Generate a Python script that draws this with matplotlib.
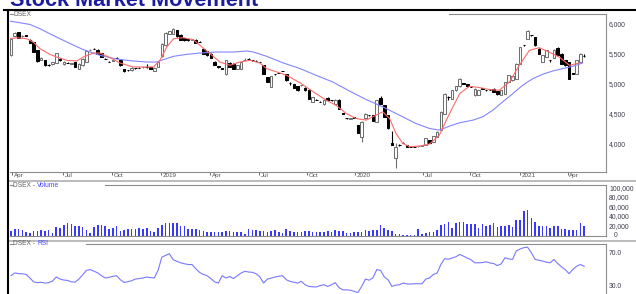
import numpy as np
import matplotlib.pyplot as plt
from matplotlib.lines import Line2D
from matplotlib.transforms import blended_transform_factory

plt.rcParams['font.family'] = ['Liberation Sans', 'DejaVu Sans']

# =====================================================
# DATA (weekly DSEX)
# =====================================================
opens = [5483, 5815, 5870, 5800, 5818, 5745, 5705, 5567, 5410, 5400,
         5330, 5335, 5355, 5430, 5335, 5362, 5345, 5372, 5261, 5317,
         5372, 5575, 5592, 5580, 5522, 5430, 5375, 5395, 5445, 5400,
         5250, 5240, 5233, 5272, 5280, 5285, 5292, 5285, 5225, 5290,
         5467, 5650, 5845, 5845, 5900, 5828, 5772, 5750, 5748, 5745,
         5710, 5595, 5550, 5511, 5370, 5300, 5265, 5167, 5361, 5344,
         5255, 5261, 5410, 5428, 5405, 5392, 5375, 5317, 5122, 4956,
         5170, 5190, 5222, 5167, 5025, 5000, 4967, 4983, 4944, 4911,
         4706, 4745, 4710, 4667, 4778, 4735, 4667, 4744, 4515, 4430,
         4425, 4445, 4317, 4122, 4428, 4485, 4483, 4372, 4767, 4650,
         4483, 4020, 3761, 3985, 4022, 3985, 3958, 3956, 3960, 3975,
         3983, 4067, 4039, 4122, 4233, 4511, 4790, 4761, 4900, 4967,
         5015, 5000, 4960, 4817, 4822, 4930, 4905, 4912, 4928, 4889,
         4822, 4844, 5039, 5067, 5094, 5344, 5652, 5761, 5818, 5789,
         5594, 5372, 5456, 5402, 5444, 5611, 5511, 5400, 5372, 5180,
         5178, 5372, 5470]
closes = [5761, 5850, 5778, 5812, 5810, 5690, 5540, 5383, 5445, 5317,
          5318, 5372, 5522, 5400, 5372, 5355, 5350, 5290, 5344, 5428,
          5556, 5580, 5588, 5511, 5456, 5425, 5370, 5410, 5440, 5317,
          5217, 5235, 5278, 5268, 5276, 5290, 5286, 5262, 5278, 5372,
          5678, 5855, 5883, 5928, 5800, 5745, 5733, 5735, 5752, 5690,
          5705, 5511, 5483, 5444, 5330, 5295, 5262, 5400, 5289, 5261,
          5322, 5372, 5412, 5425, 5400, 5389, 5372, 5178, 5039, 5133,
          5167, 5189, 5220, 5067, 5022, 4944, 4900, 4985, 4900, 4761,
          4789, 4744, 4706, 4744, 4733, 4733, 4744, 4594, 4511, 4428,
          4428, 4444, 4189, 4372, 4511, 4483, 4389, 4733, 4678, 4456,
          4261, 3990, 3956, 3983, 4020, 3958, 3956, 3955, 3962, 3980,
          4094, 4022, 4133, 4206, 4539, 4844, 4785, 4900, 4967, 5094,
          5011, 4967, 4956, 4928, 4900, 4928, 4900, 4910, 4872, 4833,
          4900, 5039, 5150, 5133, 5344, 5622, 5650, 5889, 5816, 5650,
          5511, 5483, 5567, 5400, 5578, 5483, 5344, 5317, 5094, 5178,
          5400, 5511, 5467]
highs = [5775, 5870, 5880, 5825, 5825, 5750, 5710, 5570, 5455, 5405,
         5340, 5380, 5530, 5440, 5395, 5370, 5360, 5380, 5350, 5435,
         5565, 5590, 5600, 5585, 5530, 5440, 5385, 5420, 5450, 5405,
         5255, 5245, 5285, 5280, 5285, 5295, 5345, 5290, 5285, 5380,
         5690, 5870, 5890, 5945, 5910, 5835, 5780, 5755, 5760, 5750,
         5715, 5600, 5555, 5515, 5395, 5305, 5270, 5410, 5365, 5350,
         5330, 5380, 5440, 5435, 5410, 5398, 5380, 5325, 5128, 5140,
         5175, 5195, 5228, 5172, 5030, 5005, 4972, 4990, 4950, 4915,
         4795, 4755, 4720, 4750, 4785, 4745, 4752, 4750, 4520, 4440,
         4435, 4455, 4325, 4380, 4520, 4492, 4490, 4745, 4800, 4655,
         4490, 4222, 4011, 3995, 4030, 3990, 3962, 3960, 3968, 3988,
         4100, 4072, 4140, 4212, 4545, 4850, 4800, 4905, 4975, 5105,
         5020, 5005, 4965, 4935, 4908, 4935, 4910, 4918, 4932, 4895,
         4905, 5045, 5155, 5140, 5350, 5630, 5658, 5911, 5825, 5795,
         5600, 5490, 5575, 5408, 5585, 5618, 5518, 5405, 5378, 5190,
         5410, 5520, 5500]
lows = [5470, 5800, 5770, 5795, 5800, 5685, 5535, 5375, 5400, 5310,
        5310, 5330, 5350, 5395, 5320, 5350, 5340, 5285, 5255, 5310,
        5365, 5570, 5585, 5505, 5450, 5420, 5365, 5390, 5435, 5310,
        5210, 5230, 5228, 5262, 5270, 5280, 5280, 5255, 5220, 5285,
        5460, 5645, 5840, 5840, 5795, 5740, 5728, 5730, 5740, 5685,
        5700, 5505, 5478, 5440, 5320, 5270, 5255, 5160, 5285, 5255,
        5250, 5255, 5405, 5420, 5395, 5385, 5365, 5170, 5033, 4950,
        5160, 5183, 5215, 5060, 4990, 4938, 4895, 4975, 4895, 4755,
        4700, 4735, 4700, 4660, 4728, 4725, 4660, 4590, 4505, 4420,
        4420, 4435, 4180, 4039, 4420, 4475, 4383, 4365, 4672, 4450,
        4255, 3985, 3594, 3975, 4015, 3952, 3950, 3950, 3955, 3970,
        3978, 4018, 4035, 4118, 4228, 4505, 4733, 4755, 4895, 4960,
        5005, 4962, 4950, 4810, 4815, 4922, 4880, 4905, 4868, 4828,
        4815, 4838, 5033, 5060, 5088, 5338, 5645, 5755, 5810, 5645,
        5505, 5365, 5450, 5370, 5438, 5478, 5338, 5310, 5088, 5170,
        5172, 5365, 5460]

# volume in thousands
volume_k = [10.6, 15, 15, 13, 9, 7, 11, 11, 13, 11,
            13, 7, 18, 16, 23, 27, 25, 21, 20, 18,
            13, 6, 18, 23, 23, 20, 14, 16, 20, 11,
            13, 14, 14, 14, 16, 14, 16, 11, 9, 16,
            23, 28, 28, 27, 27, 21, 21, 14, 14, 14,
            13, 11, 9, 9, 9, 9, 9, 10, 10, 9,
            9, 8, 4, 14, 13, 13, 10, 10, 9, 11,
            13, 9, 6, 14, 10, 9, 9, 9, 10, 10,
            8, 9, 8, 9, 10, 9, 13, 11, 10, 7,
            7, 8, 8, 9, 13, 11, 13, 13, 23, 16,
            13, 10, 4, 4, 2, 2, 2, 2, 14, 4,
            7, 8, 9, 13, 23, 25, 30, 16, 28, 30,
            30, 25, 25, 25, 16, 25, 21, 23, 27, 18,
            20, 21, 23, 18, 34, 34, 52, 55, 38, 30,
            20, 21, 20, 16, 21, 22, 14, 15, 13, 13,
            13, 27, 22]

rsi = [43.5, 46.9, 46, 45.8, 45, 40.7, 36, 35, 35.5, 34.5,
       35, 37, 42, 39.4, 38.2, 37.8, 36, 35.7, 39.4, 44.5,
       50, 50.9, 49, 47, 43.5, 40.7, 41.5, 42.7, 43.5, 38.6,
       35.3, 36.2, 37.4, 39.4, 40, 40.7, 41.9, 41.2, 40.7, 50,
       66, 68.2, 70.2, 63, 61, 59.2, 58, 57.1, 57.1, 52,
       47.6, 45, 43.5, 40, 36, 34.5, 43.5, 40.7, 42.5, 40,
       43.5, 46.7, 48.8, 48, 47.6, 45.9, 42, 34.5, 39.4, 40.5,
       41.9, 42.8, 43.5, 38.6, 36.6, 35.5, 34.5, 36.6, 32.5, 30.4,
       30, 29.8, 31.5, 32.5, 30.4, 32.5, 35, 29, 26.3, 26.3,
       25.8, 24.5, 23, 30.4, 39.4, 38, 41, 50.9, 50, 42,
       38.6, 30.4, 32, 32.5, 34.5, 33.5, 33.3, 33.7, 33.7, 33.7,
       39.4, 40.7, 45, 46.7, 57.1, 64.1, 63.5, 65, 66.5, 69.4,
       67.3, 65, 63, 59.2, 59.2, 59.5, 60.4, 59, 58.3, 55.8,
       57.9, 65.3, 64, 63.3, 73.5, 76, 77.6, 78.2, 71.4, 63.3,
       62.3, 61.3, 60, 59.2, 63.3, 58.3, 54.2, 50.9, 46, 50.9,
       55, 57.1, 55]

# moving averages (bar position, value)
ma_fast_x = [-0.3, 1.5, 4.2, 5.9, 7.7, 10.3, 12.1, 14.8, 17.4, 19.2,
             21.8, 23.6, 26.3, 28.9, 32.4, 35.1, 37.8, 39.5, 41.3, 43.1,
             45.7, 48.4, 50.1, 52.8, 55.4, 58.1, 60.7, 63.4, 66, 67.8,
             70.5, 73.1, 76.7, 80.2, 83.6, 86.2, 88.9, 91.5, 94.2, 96.8,
             98.6, 100.4, 102.1, 103.9, 105.7, 108.3, 111, 113.6, 116.3, 119,
             121.6, 124.3, 126.9, 129.5, 132.2, 134.8, 137.5, 140.1, 142.7, 145.4,
             148.1, 150.7]
ma_fast_y = [5761, 5778, 5761, 5706, 5594, 5500, 5456, 5400, 5389, 5456,
             5522, 5522, 5444, 5356, 5289, 5289, 5289, 5400, 5622, 5761,
             5778, 5744, 5650, 5511, 5372, 5317, 5372, 5400, 5356, 5261,
             5206, 5150, 5022, 4872, 4733, 4650, 4511, 4428, 4400, 4483,
             4539, 4428, 4178, 4011, 3956, 3967, 4000, 4150, 4511, 4844,
             4967, 4944, 4911, 4900, 5039, 5317, 5567, 5611, 5539, 5456,
             5317, 5356]
ma_slow_x = [-0.3, 5.0, 7.7, 10.3, 14.8, 19.2, 23.6, 28, 32.4, 36,
             38.6, 40.4, 43.1, 46.6, 50.1, 54.6, 59, 62.5, 64.3, 67.8,
             72.2, 76.7, 80.9, 85.3, 89.7, 94.2, 98.6, 103, 107.4, 111,
             113.6, 116.3, 119, 122.5, 125.1, 127.8, 130.4, 133.1, 135.7, 138.4,
             141, 143.7, 146.3, 149, 151.6]
ma_slow_y = [6056, 6000, 5928, 5844, 5706, 5578, 5483, 5422, 5389, 5372,
             5372, 5411, 5467, 5500, 5522, 5539, 5539, 5556, 5539, 5467,
             5356, 5261, 5150, 5039, 4889, 4744, 4622, 4483, 4344, 4261,
             4233, 4300, 4356, 4400, 4456, 4567, 4706, 4844, 4983, 5094,
             5167, 5222, 5261, 5300, 5356]

tick_pos = [0.27, 13.8, 26.8, 39.8, 52.8, 65.8, 78.5, 91.2, 109.3, 121.8, 135, 147.7]
tick_labels = ["Apr", "Jul", "Oct", "2019", "Apr", "Jul", "Oct", "2020",
               "Jul", "Oct", "2021", "Apr"]
price_ticks = [6000, 5500, 5000, 4500, 4000]
vol_ticks = [100000, 80000, 60000, 40000, 20000, 0]
rsi_ticks = [70, 30]

# =====================================================
# FIGURE / LAYOUT (pixel based)
# =====================================================
W, H = 636, 294
fig = plt.figure(figsize=(W / 100, H / 100), dpi=100)


def rect(left, top, right, bottom):
    return [left / W, 1 - bottom / H, (right - left) / W, (bottom - top) / H]


ax = fig.add_axes(rect(10, 13.5, 606, 172))
ax_v = fig.add_axes(rect(10, 184.5, 606, 236))
ax_r = fig.add_axes(rect(10, 244.3, 606, 305))

spine_c = "#8c8c8c"
xlim = (-0.265, 157.8)
for a in (ax, ax_v, ax_r):
    a.set_xlim(*xlim)
    a.set_yticks([])
    for s in a.spines.values():
        s.set_color(spine_c)
        s.set_linewidth(0.8)
    a.spines["left"].set_visible(False)
    a.spines["top"].set_visible(False)
ax_r.spines["bottom"].set_visible(False)


def top_border(a, gap_end):
    a.plot([0, 2.5 / 596], [1, 1], transform=a.transAxes, clip_on=False,
           color=spine_c, lw=0.8)
    a.plot([(gap_end - 10) / 596, 1], [1, 1], transform=a.transAxes,
           clip_on=False, color=spine_c, lw=0.8)


top_border(ax, 449)
top_border(ax_v, 105)
top_border(ax_r, 86)

# =====================================================
# CANDLES
# =====================================================
idx = np.arange(len(closes))
o = np.array(opens, dtype=float)
c = np.array(closes, dtype=float)
hi = np.array(highs, dtype=float)
lo = np.array(lows, dtype=float)
up = c >= o
body_b = np.minimum(o, c)
body_h = np.abs(c - o)

ax.vlines(idx[up], lo[up], hi[up], color="#707070", lw=0.8, zorder=2)
ax.vlines(idx[~up], lo[~up], hi[~up], color="black", lw=0.8, zorder=2)
ax.bar(idx[up], body_h[up], bottom=body_b[up], width=0.68,
       facecolor="white", edgecolor="#707070", linewidth=0.75, zorder=3)
ax.bar(idx[~up], body_h[~up], bottom=body_b[~up], width=0.68,
       facecolor="black", edgecolor="black", linewidth=0.75, zorder=3)

ax.plot(ma_slow_x, ma_slow_y, color="#8484ff", lw=0.8, zorder=4)
ax.plot(ma_fast_x, ma_fast_y, color="#ff6a6a", lw=0.8, zorder=4)
ax.set_ylim(3533, 6183)

# x ticks (main panel only)
ax.set_xticks(tick_pos)
ax.tick_params(axis="x", length=2.2, width=0.6, color="#555555",
               labelbottom=False)
for p, lab in zip(tick_pos, tick_labels):
    ax.annotate(lab, xy=(p, 0), xycoords=("data", "axes fraction"),
                xytext=(1.5, -0.6), textcoords="offset pixels",
                ha="left", va="top", fontsize=4.5, color="#505050")
for a in (ax_v, ax_r):
    a.set_xticks([])

# =====================================================
# VOLUME
# =====================================================
ax_v.bar(idx, np.array(volume_k) * 1000, width=0.42, color="#3838ff",
         linewidth=0)
ax_v.set_ylim(0, 108000)

# =====================================================
# RSI
# =====================================================
ax_r.plot(idx, rsi, color="#7878ff", lw=0.8)
ax_r.set_ylim(7.85, 81.7)

# =====================================================
# RIGHT-HAND LABELS
# =====================================================
lab_c = "#3c3c4c"
for a, ticks, fmt in ((ax, price_ticks, "{:,}"),
                      (ax_v, vol_ticks, "{:,}"),
                      (ax_r, rsi_ticks, "{:.1f}")):
    tr = blended_transform_factory(a.transAxes, a.transData)
    for v in ticks:
        txt = fmt.format(v)
        if txt == "0":
            a.text(1 + 10 / 596, v + 1200, txt, transform=tr, ha="center",
                   va="center", fontsize=4.9, color=lab_c)
        else:
            a.text(1 + 3 / 596, v, txt, transform=tr, ha="left",
                   va="center", fontsize=4.9, color=lab_c)

# =====================================================
# LEGENDS / TITLE / FRAME
# =====================================================
fig.text(13 / W, 1 - 14.3 / H, "DSEX", fontsize=4.8, color="#606060",
         va="center", ha="left")
fig.text(13 / W, 1 - 185.3 / H, "DSEX - ", fontsize=4.8, color="#606060",
         va="center", ha="left")
fig.text(37 / W, 1 - 185.3 / H, "Volume", fontsize=4.8, color="#4646ff",
         va="center", ha="left")
fig.text(13 / W, 1 - 243.7 / H, "DSEX - ", fontsize=4.8, color="#606060",
         va="center", ha="left")
fig.text(37 / W, 1 - 243.7 / H, "RSI", fontsize=4.8, color="#4646ff",
         va="center", ha="left")

# title sits partly above the top edge, as in the source image
fig.text(10 / W, 1 - 5.5 / H, "Stock Market Movement", fontsize=15.6,
         fontweight="bold", color="#1c1ca0", va="baseline", ha="left")

for yy in (180.5, 240.5):
    fig.add_artist(Line2D([9 / W, 1], [1 - yy / H] * 2, color="#a8a8a8",
                          lw=1.1))
fig.add_artist(Line2D([4 / W, 1], [1 - 10 / H] * 2, color="black", lw=1.5))
fig.add_artist(Line2D([8 / W, 8 / W], [1 - 9.5 / H, 0], color="black",
                      lw=1.5))

fig.savefig("out.png", dpi=100)
